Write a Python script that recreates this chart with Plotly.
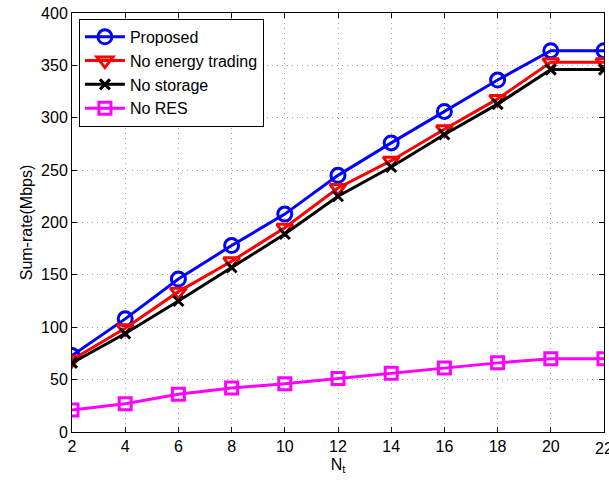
import plotly.graph_objects as go

nt = [2, 4, 6, 8, 10, 12, 14, 16, 18, 20, 22]
proposed = [73, 108, 146, 178, 208, 245, 276, 306, 336, 364, 364]
no_trading = [69, 99, 134, 163, 195, 233, 259, 289, 318, 353, 353]
no_storage = [66, 94, 125, 157, 189, 225, 253, 284, 313, 346, 346]
no_res = [21, 27, 36, 42, 46, 51, 56, 61, 66, 70, 70]

series = [
    ("Proposed", proposed, "#0000ff", "circle-open", 14),
    ("No energy trading", no_trading, "#ff0000", "triangle-down-open", 14),
    ("No storage", no_storage, "#000000", "x-thin-open", 10),
    ("No RES", no_res, "#ff00ff", "square-open", 12),
]

FONT = "Liberation Sans, Arial"

fig = go.Figure()
for name, ys, color, sym, size in series:
    fig.add_trace(go.Scatter(
        x=nt, y=ys, name=name, mode="lines+markers",
        line=dict(color=color, width=3),
        marker=dict(symbol=sym, size=size, color=color,
                    line=dict(color=color, width=3)),
    ))

axis_common = dict(
    showline=True, linecolor="black", linewidth=1, mirror="ticks",
    ticks="inside", ticklen=5, tickcolor="black",
    showgrid=True, gridcolor="#a0a0a0", griddash="1px,4px", gridwidth=1,
    zeroline=False,
    tickfont=dict(family=FONT, size=16, color="black"),
)

fig.update_xaxes(range=[2, 22], tickvals=nt[:-1], **axis_common,
                 title=dict(text="N<sub>t</sub>", standoff=4,
                            font=dict(family=FONT, size=16, color="black")))
fig.update_yaxes(range=[0, 400], tickvals=list(range(0, 401, 50)), **axis_common,
                 title=dict(text="Sum-rate(Mbps)", standoff=4,
                            font=dict(family=FONT, size=16, color="black")))

# last x tick (22) is cut off at the figure edge in the reference
fig.add_annotation(x=22, y=0, xref="x", yref="y", text=str(nt[-1]),
                   showarrow=False, yshift=-16, xanchor="center",
                   font=dict(family=FONT, size=16, color="black"))

fig.update_layout(
    width=609, height=482,
    margin=dict(l=72, r=5, t=13, b=50),
    paper_bgcolor="white", plot_bgcolor="white",
    showlegend=True,
    legend=dict(x=0.013, y=0.986, xanchor="left", yanchor="top",
                bgcolor="white", bordercolor="black", borderwidth=1,
                font=dict(family=FONT, size=16, color="black"),
                tracegroupgap=0, itemwidth=40),
)

fig.write_html("out.html")
